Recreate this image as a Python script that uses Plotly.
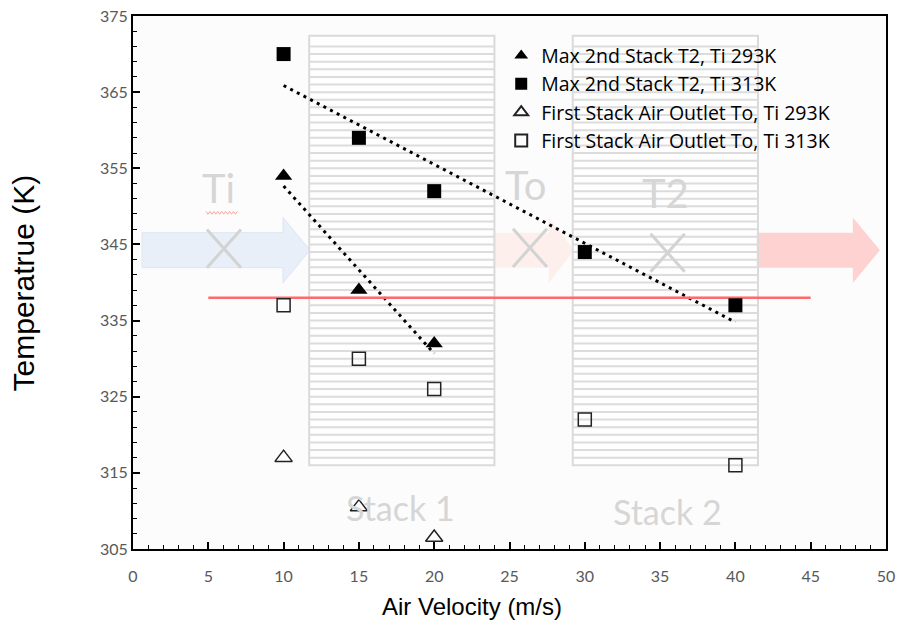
import numpy as np
import plotly.graph_objects as go

# ---------------- data ----------------
vel_293 = [10, 15, 20]
t2_293 = [354, 339, 332]          # Max 2nd Stack T2, Ti 293K
to_293 = [317, 310.5, 306.5]      # First Stack Air Outlet To, Ti 293K

vel_313 = [10, 15, 20, 30, 40]
t2_313 = [370, 359, 352, 344, 337]  # Max 2nd Stack T2, Ti 313K
to_313 = [337, 330, 326, 322, 316]  # First Stack Air Outlet To, Ti 313K

ref_x = [5, 45]
ref_y = [338, 338]

x_ticks = list(range(0, 51, 5))
y_ticks = list(range(305, 376, 10))

names = ["Max 2nd Stack T2, Ti 293K", "Max 2nd Stack T2, Ti 313K",
         "First Stack Air Outlet To, Ti 293K", "First Stack Air Outlet To, Ti 313K"]
x_title = "Air Velocity (m/s)"
y_title = "Temperatrue (K)"

# ---------------- figure ----------------
fig = go.Figure()

def trend(xs, ys):
    k, b = np.polyfit(xs, ys, 1)
    xx = [min(xs), max(xs)]
    return xx, [k * v + b for v in xx]

tx, ty = trend(vel_313, t2_313)
fig.add_trace(go.Scatter(x=tx, y=ty, mode="lines", showlegend=False, hoverinfo="skip",
                         line=dict(color="black", width=3, dash="3px,4.5px")))
tx, ty = trend(vel_293, t2_293)
fig.add_trace(go.Scatter(x=tx, y=ty, mode="lines", showlegend=False, hoverinfo="skip",
                         line=dict(color="black", width=3, dash="3px,4.5px")))

fig.add_trace(go.Scatter(x=ref_x, y=ref_y, mode="lines", showlegend=False,
                         line=dict(color="#ff6b6b", width=2.5)))

fig.add_trace(go.Scatter(x=vel_293, y=t2_293, mode="markers", name=names[0],
                         marker=dict(symbol="triangle-up", size=15, color="black")))
fig.add_trace(go.Scatter(x=vel_313, y=t2_313, mode="markers", name=names[1],
                         marker=dict(symbol="square", size=14, color="black")))
fig.add_trace(go.Scatter(x=vel_293, y=to_293, mode="markers", name=names[2],
                         marker=dict(symbol="triangle-up-open", size=15, color="#222222",
                                     line=dict(width=1.5))))
fig.add_trace(go.Scatter(x=vel_313, y=to_313, mode="markers", name=names[3],
                         marker=dict(symbol="square-open", size=13, color="#222222",
                                     line=dict(width=1.5))))

# ---------------- background decorations ----------------
shapes = []

def arrow_path(x0, xh, xt, yc, bh, hh):
    return (f"M {x0} {yc+bh} L {xh} {yc+bh} L {xh} {yc+hh} L {xt} {yc} "
            f"L {xh} {yc-hh} L {xh} {yc-bh} L {x0} {yc-bh} Z")

yc, bh, hh = 344.25, 2.3, 4.3
shapes.append(dict(type="path", xref="x", yref="y", layer="below",
                   path=arrow_path(0.6, 9.96, 11.75, yc, bh, hh),
                   fillcolor="#e9eff8", line=dict(color="#dfe6f1", width=1)))
shapes.append(dict(type="path", xref="x", yref="y", layer="below",
                   path=arrow_path(23.9, 27.6, 29.3, yc, bh, hh),
                   fillcolor="#fdefec", line=dict(width=0)))
shapes.append(dict(type="path", xref="x", yref="y", layer="below",
                   path=arrow_path(41.4, 47.8, 49.6, yc, bh, hh),
                   fillcolor="#ffd2d2", line=dict(width=0)))

for sx0, sx1 in [(11.7, 24.0), (29.2, 41.5)]:
    shapes.append(dict(type="rect", xref="x", yref="y", layer="below",
                       x0=sx0, x1=sx1, y0=316.0, y1=372.4,
                       fillcolor="rgba(255,255,255,0.6)",
                       line=dict(color="#dadada", width=2)))
    stripes = " ".join(f"M {sx0} {yy} L {sx1} {yy}" for yy in np.arange(317.0, 372.0, 1.0))
    shapes.append(dict(type="path", xref="x", yref="y", layer="below", path=stripes,
                       line=dict(color="#dcdcdc", width=2)))

for cx, cy in [(6.04, 344.45), (26.36, 344.55), (35.5, 343.9)]:
    dx, dy = 1.13, 2.5
    shapes.append(dict(type="path", xref="x", yref="y", layer="below",
                       path=f"M {cx-dx} {cy+dy} L {cx+dx} {cy-dy} M {cx-dx} {cy-dy} L {cx+dx} {cy+dy}",
                       line=dict(color="#d3d3d3", width=3)))

sq = []
xs_sq = np.arange(4.85, 6.95, 0.13)
for i, xv in enumerate(xs_sq):
    yv = 349.15 + (0.18 if i % 2 == 0 else -0.18)
    sq.append(("M" if i == 0 else "L") + f" {xv:.3f} {yv:.3f}")
shapes.append(dict(type="path", xref="x", yref="y", layer="below", path=" ".join(sq),
                   line=dict(color="#f3a6a6", width=1)))

gray_font = dict(family="Lato, 'Open Sans', sans-serif", color="#d6d6d6")
annotations = []
for txt, ax_, ay_, sz in [("Ti", 5.71, 352.45, 40), ("To", 26.03, 352.85, 40),
                          ("T2", 35.39, 351.8, 40), ("Stack 1", 17.73, 310.4, 34),
                          ("Stack 2", 35.52, 309.9, 34)]:
    annotations.append(dict(x=ax_, y=ay_, xref="x", yref="y", text=txt, showarrow=False,
                            font=dict(size=sz, **gray_font)))

title_font = dict(family="Arial, 'Liberation Sans', sans-serif", color="black")
annotations.append(dict(x=-0.1448, y=0.5, xref="paper", yref="paper", text=y_title,
                        textangle=-90, showarrow=False, xanchor="center", yanchor="middle",
                        font=dict(size=30, **title_font)))
annotations.append(dict(x=0.450, y=-0.1088, xref="paper", yref="paper", text=x_title,
                        showarrow=False, xanchor="center", yanchor="middle",
                        font=dict(size=24, **title_font)))

tick_font = dict(family="Lato, 'Open Sans', sans-serif", size=16, color="#595959")

fig.update_layout(
    width=899, height=626,
    margin=dict(l=133, r=13, t=16, b=77, autoexpand=False),
    paper_bgcolor="white",
    plot_bgcolor="#fcfcfc",
    shapes=shapes,
    annotations=annotations,
    showlegend=True,
    legend=dict(x=0.489, y=0.962, xanchor="left", yanchor="top",
                bgcolor="rgba(0,0,0,0)", borderwidth=0,
                font=dict(family="'Open Sans', Lato, sans-serif", size=19.5, color="black"),
                itemsizing="constant"),
    xaxis=dict(range=[0, 50], tickvals=x_ticks, ticks="inside", ticklen=7, tickwidth=1.5,
               tickcolor="black", showline=True, linecolor="black", linewidth=2, mirror=True,
               showgrid=False, zeroline=False, tickfont=tick_font, ticklabelstandoff=12,
               automargin=False,
               minor=dict(dtick=1, ticks="inside", ticklen=4, tickcolor="black", tickwidth=1)),
    yaxis=dict(range=[305, 375], tickvals=y_ticks, ticks="inside", ticklen=7, tickwidth=1.5,
               tickcolor="black", showline=True, linecolor="black", linewidth=2, mirror=True,
               showgrid=False, zeroline=False, tickfont=tick_font, ticklabelstandoff=0,
               automargin=False,
               minor=dict(tick0=305, dtick=2, ticks="inside", ticklen=4, tickcolor="black", tickwidth=1)),
)

fig.write_html("out.html", config={"displayModeBar": False},
               post_script="document.body.style.margin='0px';")
